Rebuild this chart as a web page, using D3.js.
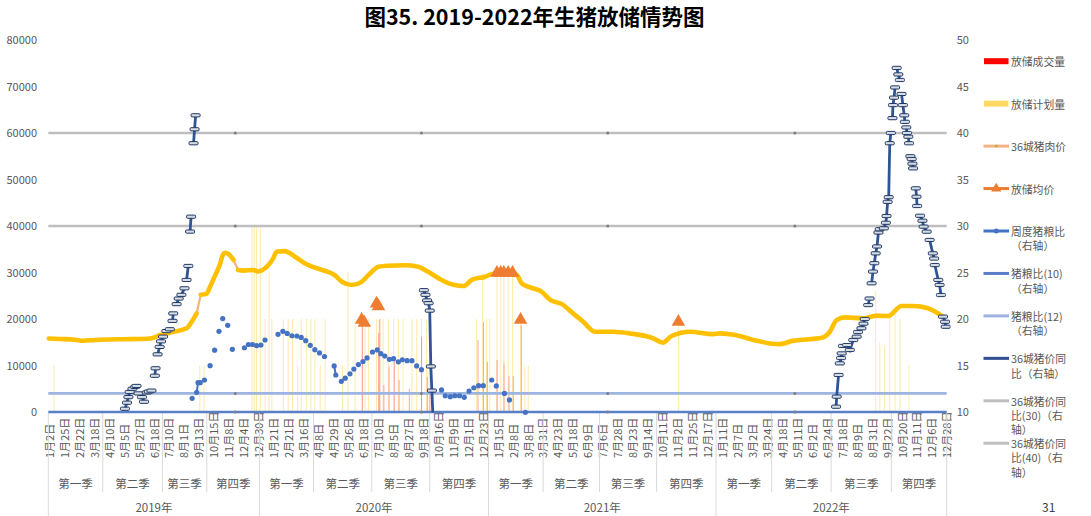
<!DOCTYPE html>
<html><head><meta charset="utf-8">
<script src="https://cdn.jsdelivr.net/npm/d3@7"></script>
<style>
body{margin:0;background:#fff;}
svg{display:block;font-family:"Noto Sans CJK SC","Noto Sans",sans-serif;}
</style></head><body>
<svg id="chart" width="1091" height="516"></svg>
<script>
// ---------------- DATA ----------------
const chartTitle = "图35. 2019-2022年生猪放储情势图";
const pageNumber = "31";
const tickDates = [
 "2019-01-02","2019-01-25","2019-02-22","2019-03-18","2019-04-10","2019-05-05","2019-05-27","2019-06-18","2019-07-10","2019-08-01","2019-09-13","2019-10-15","2019-11-08","2019-12-04","2019-12-30",
 "2020-01-21","2020-02-21","2020-03-16","2020-04-08","2020-04-29","2020-05-26","2020-06-18","2020-07-10","2020-08-05","2020-08-27","2020-09-18","2020-10-16","2020-11-09","2020-12-01","2020-12-23",
 "2021-01-15","2021-02-08","2021-03-08","2021-03-31","2021-04-23","2021-05-18","2021-06-09","2021-07-06","2021-07-28","2021-08-23","2021-09-14","2021-10-11","2021-11-02","2021-11-25","2021-12-17",
 "2022-01-11","2022-02-07","2022-03-02","2022-03-24","2022-04-18","2022-05-11","2022-06-02","2022-06-24","2022-07-18","2022-08-09","2022-08-31","2022-09-22","2022-10-20","2022-11-11","2022-12-06","2022-12-28"];
const years = [2019, 2020, 2021, 2022];
const quarterNames = ["第一季","第二季","第三季","第四季"];
const leftTicks = [0,10000,20000,30000,40000,50000,60000,70000,80000];
const rightTicks = [10,15,20,25,30,35,40,45,50];

// 放储计划量 (left axis)
const plannedVolume = [
 ["2019-01-10",10000],["2019-09-16",10000],["2019-09-25",10000],["2019-12-19",40000],["2019-12-23",40000],["2019-12-27",40000],["2020-01-02",40000],
 ["2020-01-09",20000],["2020-01-15",30000],["2020-01-19",20000],["2020-02-11",20000],["2020-02-21",20000],["2020-02-28",20000],["2020-03-07",10000],
 ["2020-03-13",20000],["2020-03-21",20000],["2020-03-28",20000],["2020-04-03",20000],["2020-04-11",10000],["2020-04-18",20000],["2020-05-16",10000],
 ["2020-05-26",30000],["2020-06-06",20000],["2020-06-16",20000],["2020-06-21",20000],["2020-06-26",20000],["2020-07-08",20000],["2020-07-12",20000],
 ["2020-07-19",20000],["2020-07-28",20000],["2020-08-06",20000],["2020-08-13",20000],["2020-08-20",20000],["2020-09-02",20000],["2020-09-09",20000],
 ["2020-09-16",20000],["2020-09-25",20000],["2020-09-30",10000],["2020-12-14",20000],["2020-12-23",30000],["2020-12-29",20000],["2021-01-03",20000],
 ["2021-01-14",30000],["2021-01-20",30000],["2021-01-25",30000],["2021-02-01",30000],["2021-02-08",30000],["2021-02-23",20000],["2021-03-03",10000],
 ["2021-03-09",10000],["2021-11-04",20000],["2022-09-06",26000],["2022-09-12",15000],["2022-09-19",14000],["2022-09-28",21000],["2022-10-08",21000],
 ["2022-10-17",20000],["2022-10-31",10000]];
// 放储成交量 (left axis)
const tradedVolume = [
 ["2020-06-16",19000],["2020-07-10",17000],["2020-07-12",20000],["2020-07-19",5800],["2020-07-28",9750],["2020-08-06",12000],["2020-08-13",6900],
 ["2020-08-28",5000],["2020-09-15",16200],["2020-09-25",7600],["2020-09-30",4700],["2020-12-15",15500],["2020-12-23",19400],["2020-12-29",10800],
 ["2021-01-13",11200],["2021-01-24",10500],["2021-02-01",7700],["2021-02-08",7700],["2021-02-23",18700]];
// 36城猪肉价 (left axis) ; null = break of the dense marker band
const porkPrice = [
 ["2019-01-02",15800],["2019-01-19",15700],["2019-02-15",15550],["2019-03-01",15330],["2019-03-20",15500],["2019-04-12",15600],["2019-05-07",15650],
 ["2019-05-29",15700],["2019-06-13",15800],["2019-06-28",16550],["2019-07-17",17250],["2019-08-10",18000],["2019-08-28",19800],["2019-09-08",21200],null,
 ["2019-09-18",25200],["2019-09-30",25400],["2019-10-08",26950],["2019-10-18",29450],["2019-10-26",31950],["2019-10-30",33750],["2019-11-03",34250],
 ["2019-11-08",34000],["2019-11-17",32700],null,["2019-11-25",30550],["2019-12-04",30400],["2019-12-21",30550],["2019-12-30",30250],["2020-01-09",30900],
 ["2020-01-14",31600],["2020-01-21",33050],["2020-01-28",34450],["2020-02-14",34600],["2020-03-03",33400],["2020-03-19",31950],["2020-04-13",30550],
 ["2020-05-02",29450],["2020-05-15",28000],["2020-06-01",27300],["2020-06-16",28000],["2020-06-26",29450],["2020-07-11",31250],["2020-07-28",31450],
 ["2020-08-23",31550],["2020-09-11",31250],["2020-09-28",30150],["2020-10-22",28400],["2020-11-12",27300],["2020-11-25",27100],["2020-12-07",28400],
 ["2020-12-27",29100],["2021-01-08",29700],["2021-02-16",29450],["2021-02-25",27650],["2021-03-12",26800],["2021-03-30",25850],["2021-04-12",24100],
 ["2021-04-30",23250],["2021-05-19",21200],["2021-06-03",19400],["2021-06-23",17250],["2021-07-22",17250],["2021-08-19",16900],["2021-09-25",15850],
 ["2021-10-12",14900],["2021-10-25",16350],["2021-11-22",17250],["2021-12-27",16750],["2022-01-08",16900],["2022-02-04",16550],["2022-03-04",15500],
 ["2022-03-29",14750],["2022-04-15",14600],["2022-05-06",15350],["2022-05-30",15650],["2022-06-19",16050],["2022-06-29",17250],["2022-07-10",19800],
 ["2022-07-23",20350],["2022-08-19",20150],["2022-09-07",20700],["2022-09-25",20650],["2022-10-20",22800],["2022-11-06",22800],["2022-11-30",22300],
 ["2022-12-23",20500]];
// 放储均价 (left axis)
const releasePrice = [
 ["2020-06-16",19800],["2020-06-20",19200],["2020-07-08",23300],["2020-07-11",22700],["2021-01-14",29950],["2021-01-20",29950],["2021-01-25",29950],
 ["2021-02-01",29950],["2021-02-08",29950],["2021-02-23",19800],["2021-11-04",19400]];
// 周度猪粮比 (right axis)
const weeklyRatio = [
 ["2019-08-26",11.47],["2019-09-08",12.12],["2019-09-12",13.15],["2019-09-17",13.15],["2019-09-26",13.44],["2019-10-08",14.98],["2019-10-17",16.65],
 ["2019-10-24",18.67],["2019-10-30",20.05],["2019-11-07",19.32],["2019-11-15",16.74],["2019-12-06",16.91],["2019-12-13",17.26],["2019-12-20",17.26],
 ["2019-12-27",17.13],["2020-01-03",17.2],["2020-01-09",17.74],["2020-01-31",18.35],["2020-02-10",18.67],["2020-02-19",18.45],["2020-02-27",18.2],
 ["2020-03-06",18.17],["2020-03-13",18.02],["2020-03-20",17.67],["2020-03-27",17.17],["2020-04-03",16.7],["2020-04-10",16.35],["2020-04-17",15.97],
 ["2020-05-01",14.95],["2020-05-04",13.98],["2020-05-14",13.3],["2020-05-21",13.64],["2020-05-29",14.1],["2020-06-04",14.62],["2020-06-11",15.1],
 ["2020-06-18",15.43],["2020-06-24",15.81],["2020-07-02",16.45],["2020-07-09",16.67],["2020-07-15",16.27],["2020-07-22",16.02],["2020-07-30",15.66],
 ["2020-08-06",15.73],["2020-08-13",15.4],["2020-08-19",15.62],["2020-08-26",15.52],["2020-09-02",15.52],["2020-09-09",14.95],["2020-09-16",14.55],
 ["2020-10-22",12.37],["2020-10-28",11.75],["2020-11-05",11.65],["2020-11-12",11.75],["2020-11-19",11.75],["2020-11-26",11.58],["2020-12-03",12.26],
 ["2020-12-10",12.61],["2020-12-17",12.83],["2020-12-24",12.83],["2021-01-06",13.44],["2021-01-13",12.8],["2021-01-26",12.0],["2021-02-03",11.3],
 ["2021-03-04",9.97]];
// 36城猪价同比 (right axis) ; null = gap
const priceYoY = [
 ["2019-05-07",10.35],["2019-05-10",11.0],["2019-05-12",11.6],["2019-05-14",12.15],["2019-05-18",12.5],["2019-05-22",12.7],["2019-05-24",12.8],null,
 ["2019-05-27",12.0],["2019-06-01",11.6],["2019-06-04",11.1],null,
 ["2019-06-08",12.1],["2019-06-11",12.2],["2019-06-15",12.3],null,
 ["2019-06-20",13.9],["2019-06-21",14.7],null,
 ["2019-06-24",16.2],["2019-06-27",17.0],["2019-06-29",17.6],["2019-07-02",18.1],null,
 ["2019-07-07",18.7],["2019-07-12",18.9],null,
 ["2019-07-16",19.8],["2019-07-17",20.6],null,
 ["2019-07-22",21.6],["2019-07-25",22.2],["2019-07-29",22.6],["2019-08-04",23.3],null,
 ["2019-08-10",24.2],["2019-08-15",25.7],null,
 ["2019-08-20",29.4],["2019-08-23",31.0],null,
 ["2019-08-30",38.9],["2019-09-02",40.4],["2019-09-05",41.9],null,
 ["2020-09-20",23.1],["2020-09-23",22.6],["2020-09-26",22.0],["2020-09-29",21.7],["2020-10-01",20.9],["2020-10-03",14.9],["2020-10-05",12.3],["2020-10-07",9.5],null,
 ["2022-07-09",10.57],["2022-07-10",11.65],["2022-07-13",13.98],null,
 ["2022-07-15",15.23],["2022-07-17",15.8],["2022-07-18",16.3],null,
 ["2022-07-20",17.1],["2022-07-26",17.2],["2022-07-30",16.67],["2022-08-04",17.74],["2022-08-09",18.1],null,
 ["2022-08-11",18.6],["2022-08-16",19.0],["2022-08-19",19.5],["2022-08-21",20.0],null,
 ["2022-08-26",21.5],["2022-08-28",22.2],null,
 ["2022-08-31",23.84],["2022-09-02",25.1],["2022-09-04",26.0],["2022-09-06",27.06],["2022-09-08",27.8],["2022-09-10",29.3],null,
 ["2022-09-12",29.65],["2022-09-18",29.75],["2022-09-21",30.35],["2022-09-22",31.07],["2022-09-24",32.6],["2022-09-26",33.1],["2022-09-28",38.9],["2022-09-30",40.0],null,
 ["2022-10-03",41.6],["2022-10-04",43.0],["2022-10-06",43.8],["2022-10-08",44.9],null,
 ["2022-10-11",47.0],["2022-10-14",46.3],["2022-10-17",45.7],null,
 ["2022-10-20",44.2],["2022-10-22",43.0],["2022-10-24",41.9],["2022-10-25",41.2],null,
 ["2022-10-27",40.6],["2022-10-28",40.0],["2022-10-30",39.6],["2022-10-31",38.9],null,
 ["2022-11-02",37.5],["2022-11-04",37.2],["2022-11-05",36.7],["2022-11-06",36.2],null,
 ["2022-11-10",34.05],["2022-11-11",33.15],["2022-11-12",32.15],null,
 ["2022-11-17",31.1],["2022-11-21",30.57],["2022-11-23",29.93],["2022-11-28",29.39],null,
 ["2022-12-03",28.5],["2022-12-08",27.06],["2022-12-10",26.5],null,
 ["2022-12-11",25.8],["2022-12-16",24.2],["2022-12-18",23.66],["2022-12-20",22.58],null,
 ["2022-12-23",20.25],["2022-12-26",19.7],["2022-12-27",19.17]];
// constant reference series (right axis)
const pigGrain10 = 10, pigGrain12 = 12, yoy30 = 30, yoy40 = 40;
const refMarkerDates = ["2019-11-20","2020-09-16","2021-07-14","2022-05-08"];
const legendLabels = [
 ["放储成交量"],["放储计划量"],["36城猪肉价"],["放储均价"],["周度猪粮比","（右轴）"],["猪粮比(10)","（右轴）"],
 ["猪粮比(12)","（右轴）"],["36城猪价同","比（右轴）"],["36城猪价同","比(30)（右","轴）"],["36城猪价同","比(40)（右","轴）"]];

// ---------------- LAYOUT ----------------
const svg = d3.select("#chart");
const plot = {left:48.3, right:946.7, top:40, bottom:412};
const parse = d3.timeParse("%Y-%m-%d");
const tickObjs = tickDates.map(parse);
const lab0 = 48.8, lab1 = 946.4;
const step = (lab1 - lab0) / (tickObjs.length - 1);
const x = d3.scaleTime().domain(tickObjs).range(tickObjs.map((d, i) => lab0 + i * step));
const yL = d3.scaleLinear().domain([0, 80000]).range([plot.bottom, plot.top]);
const yR = d3.scaleLinear().domain([10, 50]).range([plot.bottom, plot.top]);
const X = s => x(parse(s));
const txt = "#595959";

// title
svg.append("text").attr("x", 534.5).attr("y", 25).attr("text-anchor", "middle")
  .attr("font-size", 21.5).attr("font-weight", "bold").attr("fill", "#000").text(chartTitle);

// axes
const gl = svg.append("g").attr("transform", `translate(${plot.left},0)`)
  .call(d3.axisLeft(yL).tickValues(leftTicks).tickSize(0).tickPadding(11.3).tickFormat(d3.format("d")));
gl.select(".domain").remove();
gl.selectAll("text").attr("font-size", 11).attr("fill", txt).attr("font-family", "Noto Sans CJK SC");
const gr = svg.append("g").attr("transform", `translate(${plot.right},0)`)
  .call(d3.axisRight(yR).tickValues(rightTicks).tickSize(0).tickPadding(10));
gr.select(".domain").remove();
gr.selectAll("text").attr("font-size", 11).attr("fill", txt).attr("font-family", "Noto Sans CJK SC");

// category axis: dates
const fmt = d3.timeFormat("%-m月%-d日");
svg.append("g").selectAll("text").data(tickObjs).join("text")
  .attr("transform", d => `translate(${x(d)},458) rotate(-90)`)
  .attr("text-anchor", "start").attr("dominant-baseline", "central")
  .attr("font-size", 11).attr("fill", txt).text(d => fmt(d));

// quarters & years
const clampX = v => Math.max(plot.left, Math.min(plot.right, v));
const sep = svg.append("g").attr("stroke", "#D9D9D9").attr("stroke-width", 1);
const qg = svg.append("g").attr("font-size", 11.5).attr("fill", txt).attr("text-anchor", "middle");
years.forEach(yr => {
  const ys = clampX(x(new Date(yr, 0, 1))), ye = clampX(x(new Date(yr + 1, 0, 1)));
  sep.append("line").attr("x1", ys).attr("x2", ys).attr("y1", plot.bottom).attr("y2", 516);
  qg.append("text").attr("x", (ys + ye) / 2).attr("y", 507).attr("dominant-baseline", "central").text(yr + "年");
  quarterNames.forEach((q, i) => {
    const qs = clampX(x(new Date(yr, i * 3, 1))), qe = clampX(x(new Date(yr, i * 3 + 3, 1)));
    if (i > 0) sep.append("line").attr("x1", qs).attr("x2", qs).attr("y1", plot.bottom).attr("y2", 492);
    qg.append("text").attr("x", (qs + qe) / 2).attr("y", 483).attr("dominant-baseline", "central").text(q);
  });
});
sep.append("line").attr("x1", plot.right).attr("x2", plot.right).attr("y1", plot.bottom).attr("y2", 516);

// bars
const bars = svg.append("g");
bars.selectAll("rect.p").data(plannedVolume).join("rect").attr("class", "p")
  .attr("x", d => X(d[0]) - 0.5).attr("width", 1)
  .attr("y", d => yL(d[1])).attr("height", d => plot.bottom - yL(d[1]))
  .attr("fill", "#FFD966").attr("opacity", 0.55);
bars.selectAll("rect.t").data(tradedVolume).join("rect").attr("class", "t")
  .attr("x", d => X(d[0]) + 0.3).attr("width", 1)
  .attr("y", d => yL(d[1])).attr("height", d => plot.bottom - yL(d[1]))
  .attr("fill", "#FF0000").attr("opacity", 0.35);

// reference lines
const refs = [[yoy40, "#BFBFBF"], [yoy30, "#BFBFBF"], [pigGrain12, "#9DB4E0"], [pigGrain10, "#5A7FC9"]];
const rg = svg.append("g");
refs.forEach(([v, c]) => {
  rg.append("line").attr("x1", plot.left).attr("x2", plot.right).attr("y1", yR(v)).attr("y2", yR(v))
    .attr("stroke", c).attr("stroke-width", 2.6);
  rg.selectAll(null).data(refMarkerDates).join("circle").attr("cx", d => X(d)).attr("cy", yR(v))
    .attr("r", 1.5).attr("fill", "#7F7F7F");
});

// 36城猪肉价
const porkPts = porkPrice.filter(d => d);
svg.append("path").datum(porkPts)
  .attr("d", d3.line().x(d => X(d[0])).y(d => yL(d[1])))
  .attr("fill", "none").attr("stroke", "#F4B183").attr("stroke-width", 2.2);
svg.append("path").datum(porkPrice)
  .attr("d", d3.line().defined(d => d).x(d => X(d[0])).y(d => yL(d[1])).curve(d3.curveMonotoneX))
  .attr("fill", "none").attr("stroke", "#FFC000").attr("stroke-width", 4.6)
  .attr("stroke-linejoin", "round").attr("stroke-linecap", "round");

// 放储均价 triangles
const tri = d3.symbol().type(d3.symbolTriangle).size(80);
svg.append("g").selectAll("path").data(releasePrice).join("path")
  .attr("transform", d => `translate(${X(d[0])},${yL(d[1])})`)
  .attr("d", tri).attr("fill", "#ED7D31");

// 周度猪粮比
const wg = svg.append("g");
const links = d3.pairs(weeklyRatio).filter(([a, b]) => (parse(b[0]) - parse(a[0])) / 864e5 <= 4);
wg.selectAll("line").data(links).join("line")
  .attr("x1", d => X(d[0][0])).attr("y1", d => yR(d[0][1])).attr("x2", d => X(d[1][0])).attr("y2", d => yR(d[1][1]))
  .attr("stroke", "#4472C4").attr("stroke-width", 2);
wg.selectAll("circle").data(weeklyRatio).join("circle")
  .attr("cx", d => X(d[0])).attr("cy", d => yR(d[1])).attr("r", 2.6).attr("fill", "#4472C4");

// 36城猪价同比
svg.append("clipPath").attr("id", "pc").append("rect")
  .attr("x", plot.left).attr("y", plot.top - 6).attr("width", plot.right - plot.left + 4).attr("height", plot.bottom - plot.top + 6.5);
const yg = svg.append("g").attr("clip-path", "url(#pc)");
yg.append("path").datum(priceYoY)
  .attr("d", d3.line().defined(d => d).x(d => X(d[0])).y(d => yR(d[1])))
  .attr("fill", "none").attr("stroke", "#2F5597").attr("stroke-width", 2.8);
yg.selectAll("rect").data(priceYoY.filter(d => d)).join("rect")
  .attr("x", d => X(d[0]) - 4.5).attr("y", d => yR(d[1]) - 1.6).attr("width", 9).attr("height", 3.2).attr("rx", 1)
  .attr("fill", "#D6DCE4").attr("stroke", "#203864").attr("stroke-width", 1);

// legend
const lg = svg.append("g");
const lx0 = 983.5, lx1 = 1009, ltx = 1011, ly0 = 61.2, lstep = 42.45;
legendLabels.forEach((lines, i) => {
  const cy = ly0 + i * lstep;
  const g = lg.append("g");
  if (i === 0 || i === 1) {
    g.append("rect").attr("x", lx0 + 0.5).attr("y", cy - 3).attr("width", 24.5).attr("height", 6)
      .attr("fill", i === 0 ? "#FF0000" : "#FFD966");
  } else {
    const cols = {2:"#F4B183",3:"#ED7D31",4:"#4472C4",5:"#5A7FC9",6:"#9DB4E0",7:"#2F4F8F",8:"#BFBFBF",9:"#BFBFBF"};
    g.append("line").attr("x1", lx0).attr("x2", lx1).attr("y1", cy).attr("y2", cy)
      .attr("stroke", cols[i]).attr("stroke-width", 3);
    const mx = (lx0 + lx1) / 2;
    if (i === 2) g.append("circle").attr("cx", mx).attr("cy", cy).attr("r", 1.4).attr("fill", "#B5B23A");
    if (i === 3) g.append("path").attr("transform", `translate(${mx},${cy})`).attr("d", d3.symbol().type(d3.symbolTriangle).size(45)).attr("fill", "#ED7D31");
    if (i === 4) g.append("circle").attr("cx", mx).attr("cy", cy).attr("r", 2.5).attr("fill", "#4472C4");
  }
  lines.forEach((t, j) => {
    g.append("text").attr("x", ltx).attr("y", cy + j * 14.2).attr("dominant-baseline", "central")
      .attr("font-size", 10.8).attr("fill", txt).text(t);
  });
});

// page number
svg.append("text").attr("x", 1042).attr("y", 512).attr("font-size", 12).attr("fill", "#404040").text(pageNumber);
</script>
</body></html>
